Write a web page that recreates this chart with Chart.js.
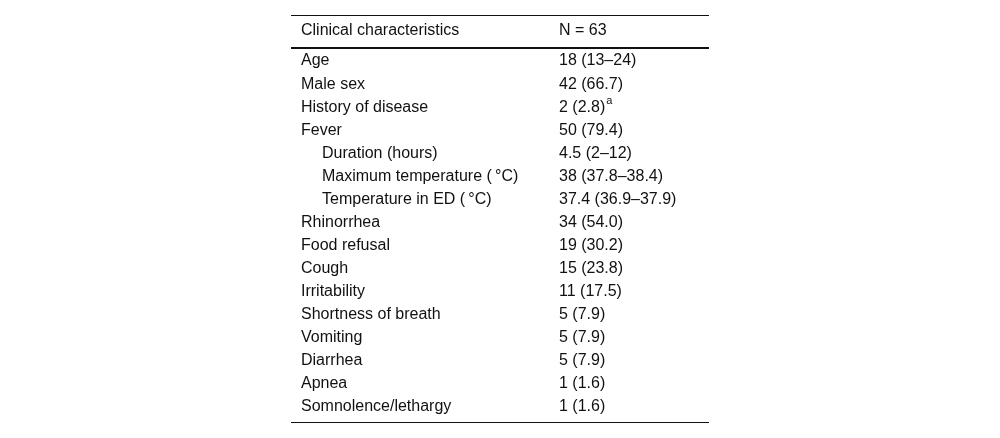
<!DOCTYPE html>
<html>
<head>
<meta charset="utf-8">
<script src="https://cdn.jsdelivr.net/npm/chart.js@4.4.0/dist/chart.umd.min.js"></script>
<style>
    html, body { margin: 0; padding: 0; background: #fff; }
    #wrap { width: 1000px; height: 438px; position: relative; }
</style>
</head>
<body>
<div id="wrap"><canvas id="tableChart"></canvas></div>
<script>
// Table content
const headers = ['Clinical characteristics', 'N = 63'];
const characteristics = [
    'Age', 'Male sex', 'History of disease', 'Fever',
    'Duration (hours)', 'Maximum temperature (\u2009°C)', 'Temperature in ED (\u2009°C)',
    'Rhinorrhea', 'Food refusal', 'Cough', 'Irritability', 'Shortness of breath',
    'Vomiting', 'Diarrhea', 'Apnea', 'Somnolence/lethargy'
];
const values = [
    '18 (13–24)', '42 (66.7)', '2 (2.8)', '50 (79.4)',
    '4.5 (2–12)', '38 (37.8–38.4)', '37.4 (36.9–37.9)',
    '34 (54.0)', '19 (30.2)', '15 (23.8)', '11 (17.5)', '5 (7.9)',
    '5 (7.9)', '5 (7.9)', '1 (1.6)', '1 (1.6)'
];
// sub-rows of Fever
const indented = [false, false, false, false, true, true, true, false, false, false, false, false, false, false, false, false];
const footnotes = ['', '', 'a', '', '', '', '', '', '', '', '', '', '', '', '', ''];

const FONT = '"Liberation Sans", Arial, Helvetica, sans-serif';

// Draws the table cells at the row positions of the y scale
const tablePlugin = {
    id: 'tableText',
    afterDraw(chart) {
        const ctx = chart.ctx;
        const area = chart.chartArea;
        const y = chart.scales.y;
        const col1 = area.left + 10;
        const col2 = area.left + 268;

        ctx.save();
        ctx.fillStyle = '#111';
        ctx.textBaseline = 'middle';
        ctx.textAlign = 'left';
        ctx.font = '16px ' + FONT;

        // header
        const headY = area.top - 18.5;
        ctx.fillText(headers[0], col1, headY);
        ctx.fillText(headers[1], col2, headY);

        characteristics.forEach((name, i) => {
            const py = y.getPixelForValue(i);
            ctx.font = '16px ' + FONT;
            ctx.fillText(name, indented[i] ? col1 + 21 : col1, py);
            ctx.fillText(values[i], col2, py);
            if (footnotes[i]) {
                const w = ctx.measureText(values[i]).width;
                ctx.font = '11px ' + FONT;
                ctx.fillText(footnotes[i], col2 + w + 1, py - 6);
            }
        });

        // rules
        ctx.strokeStyle = '#111';
        ctx.lineWidth = 1;
        ctx.beginPath();
        ctx.moveTo(area.left, area.top - 34);
        ctx.lineTo(area.right, area.top - 34);
        ctx.moveTo(area.left, area.bottom + 4);
        ctx.lineTo(area.right, area.bottom + 4);
        ctx.stroke();
        ctx.lineWidth = 2;
        ctx.beginPath();
        ctx.moveTo(area.left, area.top - 1.5);
        ctx.lineTo(area.right, area.top - 1.5);
        ctx.stroke();
        ctx.restore();
    }
};

document.addEventListener('DOMContentLoaded', () => {
    const tableCtx = document.getElementById('tableChart').getContext('2d');
    new Chart(tableCtx, {
        type: 'bar',
        data: {
            labels: characteristics,
            datasets: [{
                data: characteristics.map(() => null)
            }]
        },
        options: {
            responsive: true,
            maintainAspectRatio: false,
            animation: false,
            layout: {
                padding: { left: 291, right: 291, top: 49.5, bottom: 19.5 }
            },
            plugins: {
                legend: { display: false },
                tooltip: { enabled: false }
            },
            indexAxis: 'y',
            scales: {
                x: { display: false, min: 0, max: 1 },
                y: { display: false, offset: true }
            }
        },
        plugins: [tablePlugin]
    });
});
</script>
</body>
</html>
